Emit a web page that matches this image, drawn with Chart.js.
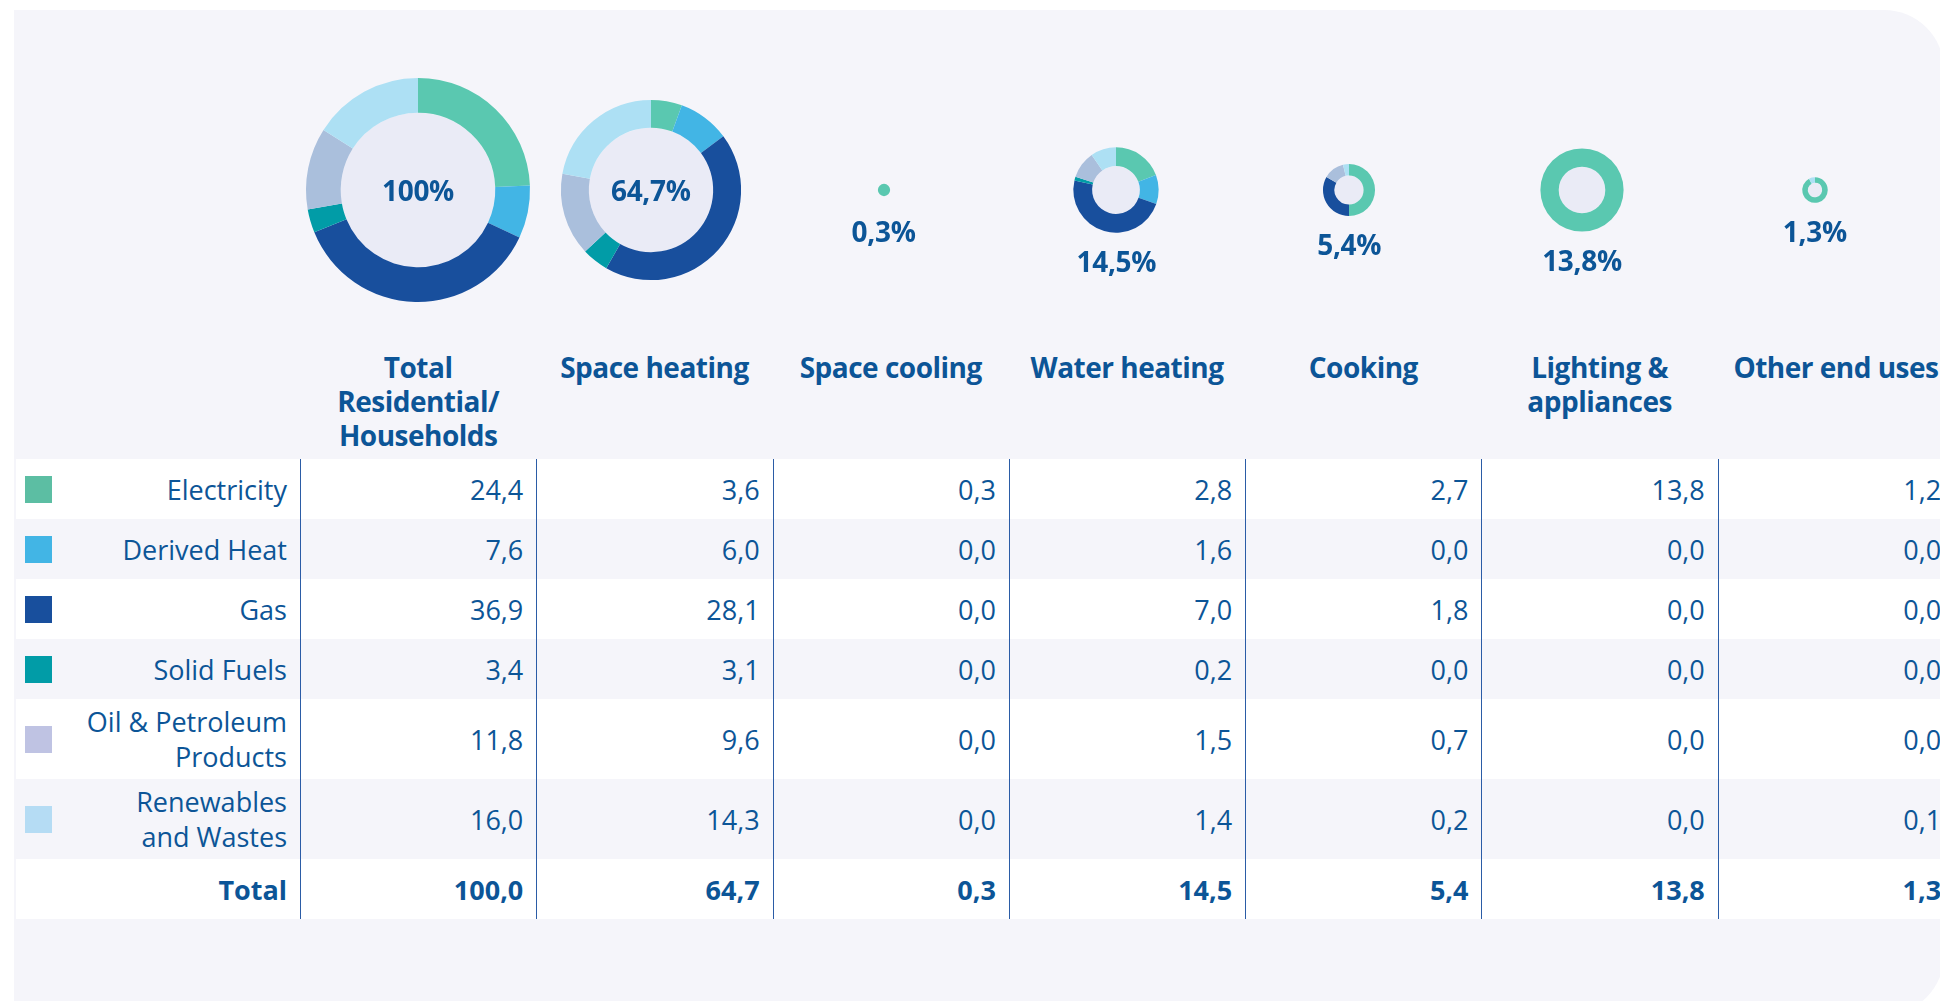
<!DOCTYPE html>
<html>
<head>
<meta charset="utf-8">
<script src="https://cdn.jsdelivr.net/npm/chart.js@4.4.1/dist/chart.umd.min.js"></script>
<style>
  html, body { margin: 0; padding: 0; background: #fff; overflow: hidden; }
  #page { position: relative; width: 1940px; height: 1001px; overflow: hidden; font-family: "Open Sans", sans-serif; color: #0c5597; }
  #card { position: absolute; left: 14px; top: 10px; width: 1930px; height: 1005px; background: #f5f5fa; border-radius: 0 60px 60px 0; }
  .donut { position: absolute; }
  .share { position: absolute; width: 180px; margin-left: -90px; text-align: center; font-weight: 700; font-size: 28px; line-height: 34px; letter-spacing: -0.3px; }
  #grid { position: absolute; left: 16px; top: 350px; display: grid; grid-template-columns: 284px repeat(7, 236.3px); grid-template-rows: 109px 60px 60px 60px 60px 80px 80px 60px; }
  .head { font-weight: 700; font-size: 28px; line-height: 34px; text-align: center; white-space: pre-line; letter-spacing: -0.5px; }
  .cell { position: relative; box-sizing: border-box; font-weight: 400; font-size: 27px; line-height: 35px; display: flex; align-items: center; justify-content: flex-end; text-align: right; padding-right: 13px; white-space: pre-line; }
  .num { border-left: 1.5px solid #2b5ca6; }
  .bold { font-weight: 700; }
  .swatch { position: absolute; left: 9px; top: 50%; width: 27px; height: 27px; margin-top: -13px; }
</style>
</head>
<body>
<div id="page">
  <div id="card"></div>
  <div id="grid"></div>
</div>
<script>
// end uses (columns) and fuels (rows)
const categories = ['Total\nResidential/\nHouseholds', 'Space heating', 'Space cooling', 'Water heating', 'Cooking', 'Lighting &\nappliances', 'Other end uses'];
const fuels = ['Electricity', 'Derived Heat', 'Gas', 'Solid Fuels', 'Oil & Petroleum\nProducts', 'Renewables\nand Wastes'];

const electricity  = [24.4,  3.6, 0.3, 2.8, 2.7, 13.8, 1.2];
const derivedHeat  = [ 7.6,  6.0, 0.0, 1.6, 0.0,  0.0, 0.0];
const gas          = [36.9, 28.1, 0.0, 7.0, 1.8,  0.0, 0.0];
const solidFuels   = [ 3.4,  3.1, 0.0, 0.2, 0.0,  0.0, 0.0];
const oilPetroleum = [11.8,  9.6, 0.0, 1.5, 0.7,  0.0, 0.0];
const renewables   = [16.0, 14.3, 0.0, 1.4, 0.2,  0.0, 0.1];
const totals       = [100.0, 64.7, 0.3, 14.5, 5.4, 13.8, 1.3];
const shareLabels  = ['100%', '64,7%', '0,3%', '14,5%', '5,4%', '13,8%', '1,3%'];

const fuelSeries = [electricity, derivedHeat, gas, solidFuels, oilPetroleum, renewables];
const sliceColors = ['#5ac8b0', '#42b5e5', '#184f9d', '#019ca7', '#aabfdc', '#ade0f4'];
const swatchColors = ['#5cbea3', '#42b5e5', '#184f9d', '#019ca7', '#bfc3e3', '#b5dcf4'];

const fmt = v => v.toFixed(1).replace('.', ',');

// fill the hole of the ring
const holeFill = {
  id: 'holeFill',
  beforeDatasetsDraw(chart) {
    const arc = chart.getDatasetMeta(0).data[0];
    if (!arc) return;
    const { x, y, innerRadius } = arc.getProps(['x', 'y', 'innerRadius'], true);
    if (innerRadius <= 0) return;
    const ctx = chart.ctx;
    ctx.save();
    ctx.fillStyle = '#eaebf6';
    ctx.beginPath();
    ctx.arc(x, y, innerRadius, 0, Math.PI * 2);
    ctx.fill();
    ctx.restore();
  }
};

const page = document.getElementById('page');
const size = 232;
const centerY = 190;
const maxRadius = 112;

categories.forEach((cat, i) => {
  const cx = 418 + i * 232.8;
  const r = maxRadius * Math.sqrt(totals[i] / 100);
  const inside = totals[i] > 50;

  const canvas = document.createElement('canvas');
  canvas.className = 'donut';
  canvas.width = size;
  canvas.height = size;
  canvas.style.left = (cx - size / 2) + 'px';
  canvas.style.top = (centerY - size / 2) + 'px';
  page.appendChild(canvas);

  new Chart(canvas.getContext('2d'), {
    type: 'doughnut',
    data: {
      labels: fuels,
      datasets: [{
        data: fuelSeries.map(s => s[i]),
        backgroundColor: sliceColors,
        borderWidth: 0
      }]
    },
    options: {
      responsive: false,
      animation: false,
      devicePixelRatio: 1,
      radius: r,
      cutout: inside ? '69%' : (r < 8 ? 0 : '56%'),
      plugins: { legend: { display: false }, tooltip: { enabled: false } },
      events: []
    },
    plugins: [holeFill]
  });

  const label = document.createElement('div');
  label.className = 'share';
  label.textContent = shareLabels[i];
  const capCenter = inside ? centerY + 1 : centerY + Math.max(r, 13) + 29;
  label.style.left = cx + 'px';
  label.style.top = (capCenter - 18) + 'px';
  page.appendChild(label);
});

// table
const grid = document.getElementById('grid');
const add = (cls, text, bg) => {
  const d = document.createElement('div');
  d.className = cls;
  d.textContent = text;
  if (bg) d.style.background = bg;
  grid.appendChild(d);
  return d;
};

add('head', '');
categories.forEach(c => add('head', c));

fuels.forEach((f, k) => {
  const bg = k % 2 === 0 ? '#ffffff' : '#f5f5fa';
  const lab = add('cell', f, bg);
  const sw = document.createElement('span');
  sw.className = 'swatch';
  sw.style.background = swatchColors[k];
  lab.appendChild(sw);
  fuelSeries[k].forEach(v => add('cell num', fmt(v), bg));
});

add('cell bold', 'Total', '#ffffff');
totals.forEach(v => add('cell num bold', fmt(v), '#ffffff'));
</script>
</body>
</html>
